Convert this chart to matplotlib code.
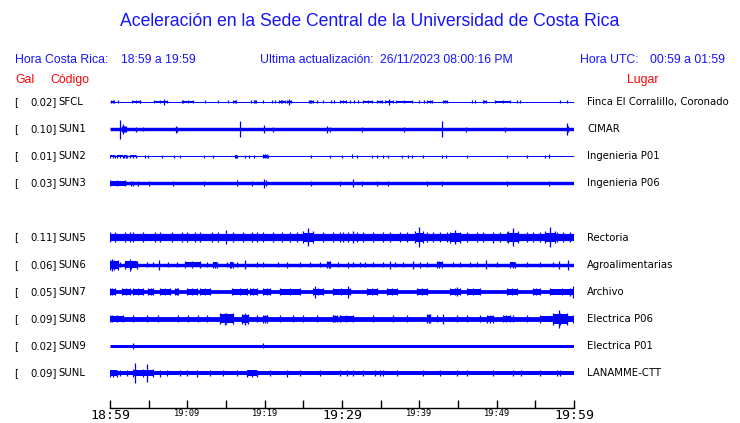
import matplotlib
matplotlib.use("Agg")
import matplotlib.pyplot as plt

# station table
codes = ["SFCL", "SUN1", "SUN2", "SUN3", "SUN5", "SUN6", "SUN7", "SUN8", "SUN9", "SUNL"]
gal = ["0.02", "0.10", "0.01", "0.03", "0.11", "0.06", "0.05", "0.09", "0.02", "0.09"]
places = ["Finca El Corralillo, Coronado", "CIMAR", "Ingenieria P01", "Ingenieria P06",
          "Rectoria", "Agroalimentarias", "Archivo", "Electrica P06", "Electrica P01",
          "LANAMME-CTT"]
rows = [0, 1, 2, 3, 5, 6, 7, 8, 9, 10]   # SUN4 has no trace

# minute ticks (minutes after 18:59)
tick_min = [0, 5, 10, 15, 20, 25, 30, 35, 40, 45, 50, 55, 60]
tick_lab = ["18:59", "", "19:09", "", "19:19", "", "19:29", "", "19:39", "", "19:49", "", "19:59"]

# trace envelopes (amplitudes in pixels)
# base half width of the noise band
base = [0.5, 1.7, 0.5, 1.7, 3.6, 1.7, 1.9, 2.4, 1.5, 2.0]

# bursts: (start minute, end minute, half width)
SFCL_bursts = [(0.13, 0.52, 1.5), (2.84, 3.88, 1.5), (5.69, 7.37, 1.5), (9.44, 10.73, 1.5),
               (15.91, 16.29, 1.5), (18.62, 18.88, 1.5), (21.85, 22.63, 1.5), (22.89, 23.41, 1.5),
               (25.73, 26.25, 1.5), (29.74, 30.52, 1.5), (32.72, 33.88, 1.5), (34.53, 35.17, 1.5),
               (35.56, 36.6, 1.5), (36.98, 39.05, 1.5), (40.99, 41.64, 1.5), (43.06, 43.58, 1.5),
               (48.23, 48.62, 1.5), (49.79, 51.72, 1.5)]
SUN1_bursts = [(1.5, 2.1, 3.0)]
SUN2_bursts = [(0.0, 0.65, 1.5), (0.9, 1.68, 1.5), (1.81, 2.2, 1.5), (2.59, 3.36, 1.5),
               (16.2, 16.4, 1.5), (19.8, 20.3, 2.0)]
SUN3_bursts = [(0.0, 1.9, 3.0)]
SUN5_bursts = [(25.0, 26.2, 6.0), (39.4, 40.5, 6.0), (44.0, 45.3, 5.5), (51.5, 52.8, 6.0),
               (56.3, 57.5, 6.0)]
SUN6_bursts = [(0.0, 1.0, 5.0), (1.9, 3.5, 4.0), (9.7, 11.6, 3.5), (13.3, 13.8, 3.0),
               (15.5, 15.9, 3.0), (28.1, 28.5, 3.5), (42.3, 42.9, 3.5), (51.7, 52.4, 3.0)]
SUN7_bursts = [(0.0, 0.6, 3.5), (1.6, 2.6, 3.5), (3.0, 4.3, 3.5), (4.9, 5.6, 3.5), (6.5, 7.8, 3.5),
               (8.4, 8.8, 3.5), (10.0, 11.2, 3.5), (11.6, 12.9, 3.5), (15.8, 17.7, 3.5),
               (18.1, 19.0, 3.5), (19.8, 20.7, 3.5), (22.0, 24.6, 3.5), (26.2, 27.5, 3.5),
               (28.8, 31.0, 3.5), (33.2, 34.5, 3.5), (35.8, 37.1, 3.5), (39.7, 41.0, 3.5),
               (44.0, 45.3, 3.5), (46.2, 47.8, 3.5), (51.3, 52.6, 3.5), (54.7, 55.6, 3.5),
               (56.9, 59.9, 3.5)]
SUN8_bursts = [(0.0, 1.7, 3.5), (14.2, 15.9, 5.5), (17.1, 17.8, 5.0), (19.8, 20.3, 4.0),
               (28.8, 29.4, 3.5), (29.7, 31.4, 3.5), (41.0, 41.4, 4.5), (48.8, 49.5, 4.0),
               (50.8, 51.7, 3.5), (55.6, 59.9, 4.0), (57.3, 59.1, 6.0)]
SUN9_bursts = []
SUNL_bursts = [(0.0, 0.9, 3.5), (3.0, 5.6, 4.0), (17.7, 19.0, 3.5)]

# spikes: (minute, half height)
SFCL_spikes = [(6.98, 3), (23.15, 3), (36.08, 3)] + [(t, 1.5) for t in
               [1.0, 3.9, 9.3, 12.3, 14.0, 15.3, 18.2, 19.8, 20.9, 21.3, 22.1, 25.9, 26.8, 27.5,
                28.6, 29.0, 31.0, 31.5, 32.1, 39.9, 40.6, 46.8, 47.2, 52.6, 53.0, 58.2, 59.1]]
SUN1_spikes = [(1.29, 9.5), (1.68, 5), (1.94, 3), (3.36, 2.5), (4.27, 2), (8.53, 3.5),
               (8.66, 2.5), (16.81, 8), (19.91, 4), (21.08, 2.5), (28.06, 3.5), (28.45, 2.5),
               (32.59, 2.5), (38.02, 2.5), (42.93, 8), (46.04, 2.5), (51.08, 2.5), (59.1, 6),
               (59.23, 3)]
SUN2_spikes = [(t, 1.5) for t in
               [4.5, 4.9, 6.7, 8.3, 9.05, 12.2, 13.3, 17.5, 18.0, 18.6, 20.4, 26.0, 28.5, 30.0,
                31.9, 33.9, 34.5, 35.3, 35.9, 37.8, 38.5, 39.1, 40.5, 42.9, 43.5, 46.2, 51.3,
                53.9, 56.3]] + [(31.3, 2), (56.8, 2)]
SUN3_spikes = [(2.7, 2.5), (3.0, 2.5), (3.6, 2.5), (5.0, 2.5), (8.1, 2.5), (12.2, 2.5), (16.4, 3),
               (18.4, 2.5), (19.9, 4.5), (20.2, 3), (26.0, 2.5), (29.7, 2.5), (31.4, 4),
               (32.6, 2.5), (34.5, 2.5), (35.9, 2.5), (41.0, 2.5), (42.9, 2.5), (51.3, 2.5),
               (56.8, 2.5)]
SUN5_spikes = [(t, 5) for t in
               [0, 0.6, 1.9, 2.6, 3.0, 4.3, 5.8, 6.5, 8.0, 9.3, 10.0, 11.0, 11.6, 13.2, 14.0,
                15.9, 17.2, 18.4, 19.0, 19.8, 21.1, 22.2, 23.3, 24.2, 27.5, 28.8, 29.7, 30.8,
                30.1, 31.9, 32.7, 34.0, 35.3, 36.2, 37.5, 38.4, 41.0, 41.8, 42.7, 43.6, 46.2,
                47.5, 48.2, 50.4, 51.3, 53.9, 54.7, 55.6, 57.8, 58.6, 59.5]] + \
              [(15.0, 7), (25.6, 9), (31.4, 6), (40.0, 10), (44.6, 7), (49.5, 5.5), (52.1, 9),
               (56.9, 10)]
SUN6_spikes = [(t, 2.5) for t in
               [0.9, 1.3, 4.8, 5.6, 7.5, 8.7, 12.5, 15.1, 16.4, 19.0, 19.8, 21.7, 24.6, 25.9,
                27.2, 29.5, 31.4, 32.3, 33.0, 34.0, 35.3, 36.9, 37.9, 41.0, 44.4, 45.3, 46.6,
                47.5, 50.0, 53.9, 55.6, 57.3]] + \
              [(0.2, 6), (2.6, 6), (6.3, 5), (17.5, 4.5), (22.9, 3), (30.8, 3), (36.2, 4),
               (39.2, 4), (40.1, 3), (48.6, 4.5), (58.1, 4), (59.2, 5)]
SUN7_spikes = [(26.5, 6), (30.8, 6), (44.9, 4.5), (59.5, 4), (59.9, 6)]
SUN8_spikes = [(t, 3.5) for t in
               [0.3, 3.0, 4.8, 6.2, 8.8, 10.1, 11.4, 12.5, 19.0, 20.3, 22.0, 23.7, 25.0, 26.8,
                28.8, 29.7, 34.0, 36.6, 38.4, 42.3, 44.9, 46.2, 47.8, 52.1, 53.9]] + \
              [(14.9, 6), (17.5, 6), (43.1, 5), (58.1, 9)]
SUN9_spikes = [(3.0, 3), (19.8, 2.5)]
SUNL_spikes = [(t, 3) for t in
               [1.3, 2.2, 7.4, 9.1, 10.0, 12.9, 14.6, 16.4, 20.7, 24.6, 27.2, 29.7, 30.6, 31.4,
                32.7, 34.3, 34.9, 35.3, 37.1, 40.5, 42.7, 44.9, 46.2, 49.5, 52.1, 53.2, 55.6,
                57.8, 58.2]] + \
              [(3.2, 10), (4.8, 9), (6.5, 3.5), (11.2, 3.5), (22.9, 3.5)]

bursts = [SFCL_bursts, SUN1_bursts, SUN2_bursts, SUN3_bursts, SUN5_bursts,
          SUN6_bursts, SUN7_bursts, SUN8_bursts, SUN9_bursts, SUNL_bursts]
spikes = [SFCL_spikes, SUN1_spikes, SUN2_spikes, SUN3_spikes, SUN5_spikes,
          SUN6_spikes, SUN7_spikes, SUN8_spikes, SUN9_spikes, SUNL_spikes]

W, H = 740, 423
ROW = 27.1          # pixels between traces
BLUE = "#0000ff"
TXT_BLUE = "#1414ff"
RED = "#ff0000"

fig = plt.figure(figsize=(W / 100, H / 100), dpi=100)
fig.patch.set_facecolor("white")


def ftext(x, y, s, **kw):
    fig.text(x / W, 1 - y / H, s, va="center", **kw)


# axes in pixel units vertically: row 0 at y=102, spine at y=408
top_px, bot_px = 75, 408
ax = fig.add_axes([110 / W, 1 - bot_px / H, 464 / W, (bot_px - top_px) / H])
ax.set_xlim(0, 60)
ax.set_ylim(-(bot_px - 102), 102 - top_px)
for s in ["top", "left", "right"]:
    ax.spines[s].set_visible(False)
ax.spines["bottom"].set_linewidth(1.0)
ax.set_yticks([])

for i, r in enumerate(rows):
    y0 = -r * ROW
    ax.hlines(y0, 0, 60, color=BLUE, lw=2 * base[i] * 0.72)
    for t0, t1, a in bursts[i]:
        # noisy burst: dense core plus ragged edges
        ax.fill_between([t0, t1], y0 - 0.8 * a, y0 + 0.8 * a, color=BLUE, lw=0)
        ax.vlines([t0, (t0 + t1) / 2, t1], y0 - a, y0 + a, color=BLUE, lw=0.9)
    ts = [s[0] for s in spikes[i]]
    amps = [s[1] for s in spikes[i]]
    ax.vlines(ts, [y0 - a for a in amps], [y0 + a for a in amps], color=BLUE, lw=0.9)

    # labels
    ax.text(-96 / 464 * 60, y0, "[", ha="left", va="center", fontsize=7.3, clip_on=False)
    ax.text(-53 / 464 * 60, y0, gal[i] + "]", ha="right", va="center", fontsize=7.3,
            clip_on=False)
    ax.text(-52 / 464 * 60, y0, codes[i], ha="left", va="center", fontsize=7.3, clip_on=False)
    ax.text(477 / 464 * 60, y0, places[i], ha="left", va="center", fontsize=7.3, clip_on=False)

ax.set_xticks(tick_min)
ax.set_xticklabels(tick_lab, family="DejaVu Sans Mono")
ax.tick_params(axis="x", direction="in", length=6, width=1.0, pad=0.5)
for k, lab in enumerate(ax.get_xticklabels()):
    if tick_lab[k] in ("18:59", "19:29", "19:59"):
        lab.set_fontsize(9.5)
    else:
        lab.set_fontsize(6.3)

# header texts
fig.text(0.5, 1 - 22 / H, "Aceleración en la Sede Central de la Universidad de Costa Rica",
         ha="center", va="center", color=TXT_BLUE, fontsize=12.7, family="Liberation Sans")
hdr = dict(color=TXT_BLUE, fontsize=8.8, family="Liberation Sans", ha="left")
ftext(15, 60, "Hora Costa Rica:", **hdr)
ftext(121, 60, "18:59 a 19:59", **hdr)
ftext(260, 60, "Ultima actualización:", **hdr)
ftext(380, 60, "26/11/2023 08:00:16 PM", **hdr)
ftext(580, 60, "Hora UTC:", **hdr)
ftext(650, 60, "00:59 a 01:59", **hdr)
red = dict(color=RED, fontsize=8.8, family="Liberation Sans", ha="left")
ftext(15, 80, "Gal", **red)
ftext(50, 80, "Código", **red)
ftext(627, 80, "Lugar", **red)

fig.savefig("out.png", dpi=100, facecolor="white")
